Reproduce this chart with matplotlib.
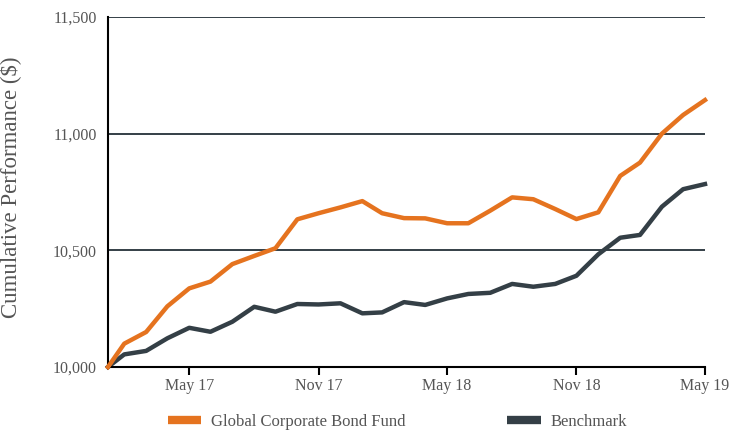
import pandas as pd
import matplotlib.pyplot as plt
from matplotlib.lines import Line2D
from matplotlib.ticker import FuncFormatter

# monthly values, inception Feb 2017 -> May 2019
dates = ["2017-02-05", "2017-02-28", "2017-03-31", "2017-04-30", "2017-05-31",
         "2017-06-30", "2017-07-31", "2017-08-31", "2017-09-30", "2017-10-31",
         "2017-11-30", "2017-12-31", "2018-01-31", "2018-02-28", "2018-03-31",
         "2018-04-30", "2018-05-31", "2018-06-30", "2018-07-31", "2018-08-31",
         "2018-09-30", "2018-10-31", "2018-11-30", "2018-12-31", "2019-01-31",
         "2019-02-28", "2019-03-31", "2019-04-30", "2019-05-31"]
fund = [10000, 10100, 10150, 10260, 10337, 10366, 10441, 10476, 10509, 10633,
        10659, 10684, 10711, 10659, 10638, 10637, 10616, 10616, 10670, 10727,
        10719, 10677, 10634, 10663, 10819, 10876, 11000, 11080, 11144]
bench = [10000, 10054, 10069, 10123, 10168, 10151, 10194, 10258, 10237, 10270,
         10268, 10273, 10230, 10234, 10278, 10266, 10294, 10313, 10318, 10356,
         10344, 10356, 10391, 10483, 10554, 10566, 10687, 10762, 10784]
tick_dates = ["2017-05-31", "2017-11-30", "2018-05-31", "2018-11-30", "2019-05-31"]
tick_labels = ["May 17", "Nov 17", "May 18", "Nov 18", "May 19"]

orange = "#e5731f"
dark = "#343f46"
grey = "#555555"
font = "Liberation Serif"

x = pd.to_datetime(dates)
fig = plt.figure(figsize=(7.44, 4.30), dpi=100)
ax = fig.add_axes([108 / 744, 1 - 367 / 430, (705 - 108) / 744, (367 - 17) / 430])

for yv in [10500, 11000, 11500]:
    ax.axhline(yv, color=dark, lw=1.4, zorder=1)
ax.plot(x, fund, color=orange, lw=3.2, zorder=3, clip_on=False)
ax.plot(x, bench, color=dark, lw=3.2, zorder=2, clip_on=False)

ax.set_xlim(x[0], x[-1])
ax.set_ylim(10000, 11500)
ax.set_yticks([10000, 10500, 11000, 11500])
ax.yaxis.set_major_formatter(FuncFormatter(lambda v, p: f"{v:,.0f}"))
ax.set_xticks(pd.to_datetime(tick_dates))
ax.set_xticklabels(tick_labels)

for s in ["top", "right"]:
    ax.spines[s].set_visible(False)
ax.spines["left"].set_linewidth(1.5)
ax.spines["bottom"].set_linewidth(1.5)
ax.spines["left"].set_color("black")
ax.spines["bottom"].set_color("black")
ax.tick_params(axis="y", length=0, pad=8, labelsize=11.5, labelcolor=grey)
ax.tick_params(axis="x", length=6, width=1.5, pad=2, labelsize=11.5, labelcolor=grey)
for lab in ax.get_xticklabels() + ax.get_yticklabels():
    lab.set_family(font)

ax.set_ylabel("Cumulative Performance ($)", fontsize=16.5, color=grey, family=font)
ax.yaxis.set_label_coords(-0.145, 0.515)

handles = [Line2D([], [], color=orange, lw=6, solid_capstyle="butt"),
           Line2D([], [], color=dark, lw=6, solid_capstyle="butt")]
fig.legend(handles, ["Global Corporate Bond Fund", "Benchmark"], ncol=2,
           loc="center left", bbox_to_anchor=(153 / 744, 1 - 422 / 430),
           frameon=False, handlelength=2.0, handletextpad=0.6, columnspacing=6.1,
           prop={"family": font, "size": 12}, labelcolor=grey)

fig.savefig("out.png", dpi=100)
